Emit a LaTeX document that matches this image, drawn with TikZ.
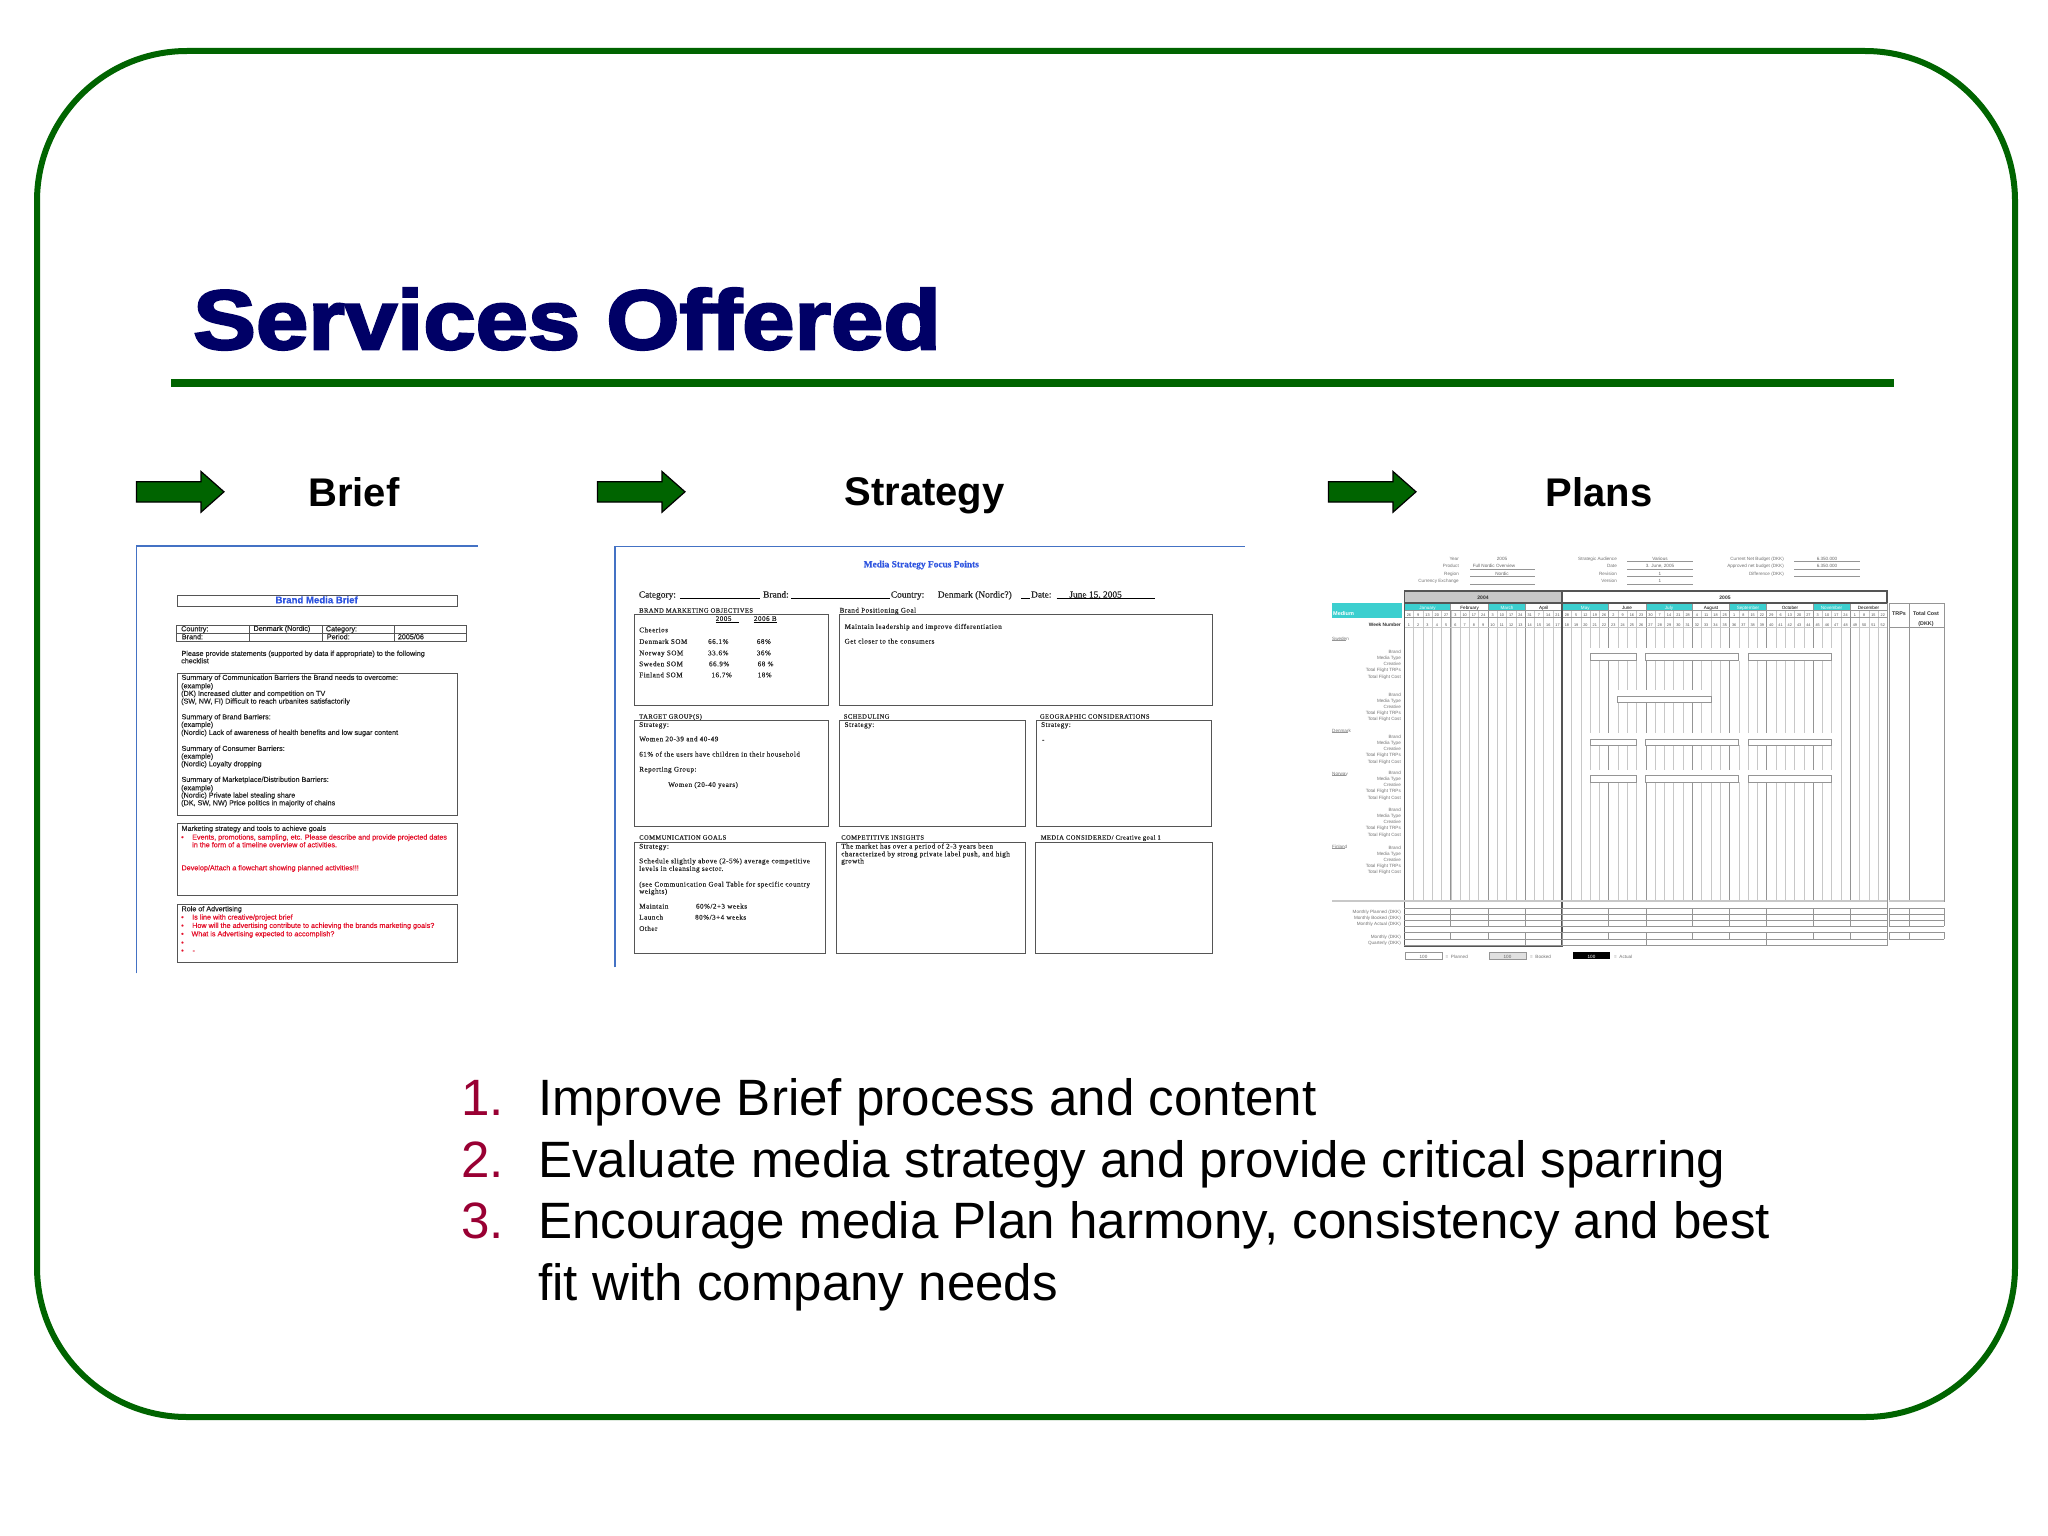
\documentclass[tikz,border=0pt]{standalone}
\usepackage{fontspec}
\setmainfont{Liberation Sans}
\newfontfamily\titlefont[FakeBold=3,FakeStretch=1.12]{Liberation Sans Bold}
\newfontfamily\briefF[FakeBold=0.4]{Liberation Sans}
\newfontfamily\stratF[FakeBold=0.45]{Liberation Serif}
\newfontfamily\stratS[FakeBold=0.45,LetterSpace=7]{Liberation Serif}
\newfontfamily\planF{Liberation Sans}
\definecolor{fgreen}{HTML}{006400}
\definecolor{navy}{HTML}{000066}
\definecolor{docblue}{HTML}{4472C4}
\definecolor{numred}{HTML}{990033}
\definecolor{teal2}{HTML}{3CCFCF}
\definecolor{redtxt}{HTML}{E4102A}
\definecolor{bluetxt}{HTML}{2F55E0}
\definecolor{darkg}{HTML}{555555}
\definecolor{midg}{HTML}{959595}
\definecolor{lightg}{HTML}{C8C8C8}
\newcounter{nn}
\tikzset{
  frameline/.style={draw=fgreen,line width=6pt,rounded corners=150pt},
  gotoarrow/.style={draw=black,fill=fgreen,line width=1.2pt,line join=miter},
  steplabel/.style={font=\fontsize{40}{40}\selectfont\bfseries,inner sep=0pt,anchor=base},
  listtext/.style={font=\fontsize{51.1}{52}\selectfont,inner sep=0pt,anchor=base west},
  listnum/.style={font=\fontsize{51.1}{52}\selectfont,text=numred,inner sep=0pt,anchor=base west},
  doc/.style={draw=docblue,line width=1.6pt},
  bx/.style={draw=darkg,line width=1pt},
  t/.style={inner sep=0pt,anchor=west,text height=.72em,text depth=.2em},
  br/.style={t,font=\briefF\fontsize{7.2}{8}\selectfont,text=black!85},
  sr/.style={t,font=\stratS\fontsize{7.1}{8}\selectfont,text=black!85},
  scap/.style={font=\stratS\fontsize{6.5}{7}\selectfont},
  pr/.style={t,anchor=east,font=\planF\fontsize{4.6}{5}\selectfont,text=black!55},
  pl/.style={t,font=\planF\fontsize{4.6}{5}\selectfont,text=black!55},
  pc/.style={t,anchor=center,font=\planF\fontsize{4.6}{5}\selectfont,text=black!60},
  wk/.style={t,anchor=center,font=\planF\fontsize{3.8}{4}\selectfont,text=black!70},
  ln/.style={draw=midg,line width=.6pt},
}
\newcommand{\Tx}[4][]{\stepcounter{nn}\node[#1] (n\arabic{nn}) at (#2,#3) {#4};}
\newcommand{\Bt}[4][]{\Tx[br,#1]{#2}{#3}{#4}}
\newcommand{\St}[4][]{\Tx[sr,#1]{#2}{#3}{#4}}
\newcommand{\Pc}[4][]{\Tx[pc,#1]{#2}{#3}{#4}}
\newcommand{\PR}[3]{\Tx[pr]{#1}{#2}{#3}}
\newcommand{\GoArrow}[1]{\begin{scope}[shift={(#1,0)}]
 \draw[gotoarrow] (136.5,481.7) -- (201,481.7) -- (201,471.5) -- (224,491.8) -- (201,512.2) -- (201,502) -- (136.5,502) -- cycle;\end{scope}}
\newcommand{\Group}[1]{\foreach \lab [count=\i from 0] in {Brand,Media Type,Creative,Total Flight TRPs,Total Flight Cost}{\pgfmathsetmacro{\yy}{#1+6.1*\i}\PR{1401}{\yy}{\lab}}}
\begin{document}
\begin{tikzpicture}[x=1pt,y=-1pt]
\useasboundingbox (0,0) rectangle (2048,1536);
\fill[white] (0,0) rectangle (2048,1536);
\draw[frameline] (37,51) rectangle (2015,1417);
\node[inner sep=0pt,anchor=base west,text=navy,font=\titlefont\fontsize{84}{84}\selectfont] (title) at (193,349) {Services Offered};
\fill[fgreen] (171,378.5) rectangle (1894,387);
\GoArrow{0}\GoArrow{461}\GoArrow{1192}
\node[steplabel] (lbrief) at (354,506) {Brief};
\node[steplabel] (lstrategy) at (924.5,505) {Strategy};
\node[steplabel] (lplans) at (1599,506) {Plans};
% ---- list
\node[listnum] (n1) at (461,1115) {1.};
\node[listtext] (l1) at (538,1115) {Improve Brief process and content};
\node[listnum] (n2) at (461,1177) {2.};
\node[listtext] (l2) at (538,1177) {Evaluate media strategy and provide critical sparring};
\node[listnum] (n3) at (461,1238) {3.};
\node[listtext] (l3) at (538,1238) {Encourage media Plan harmony, consistency and best};
\node[listtext] (l4) at (538,1300) {fit with company needs};
% ---- Brief document
\begin{scope}[shift={(120,530)},xscale=1/3,yscale=1/3]
\draw[doc] (50,1330) -- (50,48) -- (1075,48);
\draw[bx] (173,195) rectangle (1012,230);
\Tx[t,anchor=center,font=\briefF\fontsize{9.6}{10}\selectfont\bfseries,text=bluetxt]{590}{212}{Brand Media Brief}
\draw[bx] (170,285) rectangle (1040,333);
\draw[bx] (170,309) -- (1040,309);
\foreach \xx in {388,606,824} \draw[bx] (\xx,285) -- (\xx,333);
\Bt{183}{296}{Country:}\Bt{400}{295}{Denmark (Nordic)}\Bt{617}{296}{Category:}
\Bt{185}{320}{Brand:}\Bt{620}{320}{Period:}\Bt{833}{320}{2005/06}
\Bt{184}{370}{Please provide statements (supported by data if appropriate) to the following}
\Bt{183}{392}{checklist}
\draw[bx] (173,431) rectangle (1012,856);
\Bt{184}{442}{Summary of Communication Barriers the Brand needs to overcome:}
\Bt{183}{467}{(example)}
\Bt{183}{490}{(DK) Increased clutter and competition on TV}
\Bt{183}{513}{(SW, NW, FI) Difficult to reach urbanites satisfactorily}
\Bt{184}{560}{Summary of Brand Barriers:}
\Bt{183}{583}{(example)}
\Bt{183}{607}{(Nordic) Lack of awareness of health benefits and low sugar content}
\Bt{184}{655}{Summary of Consumer Barriers:}
\Bt{183}{678}{(example)}
\Bt{183}{701}{(Nordic) Loyalty dropping}
\Bt{184}{748}{Summary of Marketplace/Distribution Barriers:}
\Bt{183}{773}{(example)}
\Bt{183}{795}{(Nordic)  Private label stealing share}
\Bt{183}{818}{(DK, SW, NW) Price politics in majority of chains}
\draw[bx] (173,881) rectangle (1012,1097);
\Bt{184}{895}{Marketing strategy and tools to achieve goals}
\Bt[text=redtxt]{183}{921}{•}
\Bt[text=redtxt]{216}{921}{Events, promotions, sampling, etc.  Please describe and provide projected dates}
\Bt[text=redtxt]{216}{944}{in the form of a timeline overview of activities.}
\Bt[text=redtxt]{184}{1013}{Develop/Attach a flowchart showing planned activities!!!}
\draw[bx] (173,1124) rectangle (1012,1297);
\Bt{184}{1136}{Role of Advertising}
\foreach \yy in {1161,1186,1211,1237,1261} {\Bt[text=redtxt]{183}{\yy}{•}}
\Bt[text=redtxt]{216}{1161}{Is line with creative/project brief}
\Bt[text=redtxt]{216}{1186}{How will the advertising contribute to achieving the brands marketing goals?}
\Bt[text=redtxt]{214}{1211}{What is Advertising expected to accomplish?}
\Bt[text=redtxt]{217}{1261}{-}
\end{scope}
% ---- Strategy document
\begin{scope}[shift={(600,530)},xscale=.42,yscale=1/3]
\draw[doc] (36,1312) -- (36,50) -- (1535,50);
\Tx[t,anchor=center,font=\stratF\fontsize{9.4}{10}\selectfont\bfseries,text=bluetxt]{765}{104}{Media Strategy Focus Points}
\tikzset{sr9/.style={font=\stratF\fontsize{9.4}{10}\selectfont}}
\St[sr9]{92}{195}{Category:}
\draw[black,line width=.5pt] (190,206) -- (380,206);
\draw[black,line width=1pt] (337,206) -- (380,206);
\St[sr9]{388}{195}{Brand:}
\draw[black,line width=.5pt] (455,206) -- (690,206);
\St[sr9]{692}{195}{Country:}
\St[sr9]{804}{195}{Denmark (Nordic?)}
\draw[black,line width=.6pt] (1003,206) -- (1024,206);
\St[sr9]{1026}{195}{Date:}
\St[sr9]{1117}{195}{June 15, 2005}
\draw[black,line width=.6pt] (1087,206) -- (1322,206);
\St[scap]{93}{240}{BRAND MARKETING OBJECTIVES}\St{570}{240}{Brand Positioning Goal}
\draw[bx] (81,253) rectangle (545,525);
\draw[bx] (571,253) rectangle (1458,525);
\St{275}{265}{2005}\St{366}{265}{2006 B}
\draw[black,line width=.4pt] (275,276) -- (331,276);
\draw[black,line width=.4pt] (366,276) -- (422,276);
\St{93}{299}{Cheerios}
\St{93}{334}{Denmark SOM}\St{257}{334}{66.1\%}\St{373}{334}{68\%}
\St{93}{368}{Norway SOM}\St{257}{368}{33.6\%}\St{373}{368}{36\%}
\St{93}{401}{Sweden SOM}\St{259}{401}{66.9\%}\St{375}{401}{68 \%}
\St{93}{434}{Finland SOM}\St{265}{434}{16.7\%}\St{375}{434}{18\%}
\St{582}{289}{Maintain leadership and improve differentiation}
\St{582}{333}{Get closer to the consumers}
\St[scap]{93}{558}{TARGET GROUP(S)}\St[scap]{580}{558}{SCHEDULING}\St[scap]{1047}{558}{GEOGRAPHIC CONSIDERATIONS}
\draw[bx] (81,571) rectangle (545,888);
\draw[bx] (571,571) rectangle (1013,888);
\draw[bx] (1040,571) rectangle (1457,888);
\St{93}{583}{Strategy:}\St{582}{583}{Strategy:}\St{1050}{583}{Strategy:}
\St{93}{626}{Women 20-39 and 40-49}
\St{93}{672}{61\% of the users have children in their household}
\St{93}{717}{Reporting Group:}
\St{162}{763}{Women (20-40 years)}
\St{1052}{628}{-}
\St[scap]{93}{921}{COMMUNICATION GOALS}\St[scap]{574}{921}{COMPETITIVE INSIGHTS}\St[scap]{1049}{921}{MEDIA CONSIDERED/ Creative goal 1}
\draw[bx] (81,936) rectangle (537,1270);
\draw[bx] (562,936) rectangle (1013,1270);
\draw[bx] (1038,936) rectangle (1458,1270);
\St{93}{948}{Strategy:}
\St{93}{992}{Schedule slightly above (2-5\%) average competitive}
\St{93}{1015}{levels in cleansing sector.}
\St{93}{1062}{(see Communication Goal Table for specific country}
\St{93}{1083}{weights)}
\St{93}{1128}{Maintain}\St{228}{1128}{60\%/2+3 weeks}
\St{93}{1161}{Launch}\St{226}{1161}{80\%/3+4 weeks}
\St{93}{1195}{Other}
\St{574}{948}{The market has over a period of 2-3 years been}
\St{574}{971}{characterized by strong private label push, and high}
\St{574}{992}{growth}
\end{scope}
% ---- Plans sheet (full pixel coordinates)
% header block
\foreach \lab/\yy in {Year/558,Product/565,Region/573,Currency Exchange/580} {\PR{1459}{\yy}{\lab}}
\Pc{1502}{558}{2005}\Pc{1494}{565}{Full Nordic Overview}\Pc{1502}{573}{Nordic}
\foreach \yy in {569,576,584} \draw[midg,line width=.5pt] (1470,\yy) -- (1535,\yy);
\foreach \lab/\yy in {Strategic Audience/558,Date/565,Revision/573,Version/580} {\PR{1617}{\yy}{\lab}}
\Pc{1660}{558}{Various}\Pc{1660}{565}{3. June, 2005}\Pc{1660}{573}{1}\Pc{1660}{580}{1}
\foreach \yy in {561,569,576,584} \draw[midg,line width=.5pt] (1627,\yy) -- (1693,\yy);
\foreach \lab/\yy in {Current Net Budget (DKK)/558,Approved net budget (DKK)/565,Difference (DKK)/573} {\PR{1784}{\yy}{\lab}}
\Pc{1827}{558}{6.350.000}\Pc{1827}{565}{6.350.000}
\foreach \yy in {561,569,576} \draw[midg,line width=.5pt] (1794,\yy) -- (1860,\yy);
% teal fills
\fill[lightg] (1404.3,591) rectangle (1562,603);
\fill[teal2] (1332,603) rectangle (1402,618);
\fill[teal2] (1404.3,603) rectangle (1451,610);
\fill[teal2] (1488.3,603) rectangle (1525.7,610);
\fill[teal2] (1562,603) rectangle (1608.7,610);
\fill[teal2] (1645.7,603) rectangle (1692.7,610);
\fill[teal2] (1729.4,603) rectangle (1766.7,610);
\fill[teal2] (1813,603) rectangle (1850,610);
\Tx[pl,text=white,font=\planF\bfseries\fontsize{5.5}{6}\selectfont]{1333}{613}{Medium}
\Pc[text=black!80,font=\planF\bfseries\fontsize{5}{6}\selectfont]{1483}{597}{2004}
\Pc[text=black!80,font=\planF\bfseries\fontsize{5}{6}\selectfont]{1725}{597}{2005}
\foreach \lab/\xx/\col in {January/1427.6/white,February/1469.6/black,March/1507/white,April/1543.8/black,May/1585.3/white,June/1627/black,July/1669/white,August/1711/black,September/1748/white,October/1790/black,November/1831.5/white,December/1868.5/black} {\Pc[text=\col]{\xx}{606.6}{\lab}}
% week grid
\foreach \i in {1,...,51} {\pgfmathsetmacro{\xx}{1404.3+9.29*\i}\draw[lightg,line width=.5pt] (\xx,610) -- (\xx,901);}
\foreach \i in {5,9,13,22,26,31,35,39,44,48} {\pgfmathsetmacro{\xx}{1404.3+9.29*\i}\draw[midg,line width=.6pt] (\xx,603) -- (\xx,901);}
\foreach \d [count=\i] in {26,9,13,20,27,3,10,17,24,3,10,17,24,31,7,14,21,28,5,12,19,26,2,9,16,23,30,7,14,21,28,4,11,18,25,1,8,15,22,29,6,13,20,27,3,10,17,24,1,8,15,22} {
  \pgfmathsetmacro{\xx}{1404.3+9.29*(\i-.5)}
  \Tx[wk]{\xx}{613.6}{\d}
  \Tx[wk]{\xx}{624}{\i}
}
\foreach \yy in {610,617} \draw[midg,line width=.6pt] (1404.3,\yy) -- (1887,\yy);
\draw[lightg,line width=.6pt] (1404.3,627) -- (1887,627);
\Tx[pr,text=black!80,font=\planF\bfseries\fontsize{4.8}{5}\selectfont]{1401}{624}{Week Number}
% plan bars
\fill[white] (1590,648) rectangle (1832,661);
\fill[white] (1617.7,690) rectangle (1711,702);
\fill[white] (1590,733) rectangle (1832,745);
\fill[white] (1590,770) rectangle (1832,782);
\foreach \yt/\yb in {653/660,739/745,775/782} {
  \draw[ln,fill=white] (1590,\yt) rectangle (1636.5,\yb);
  \draw[ln,fill=white] (1645.7,\yt) rectangle (1738.7,\yb);
  \draw[ln,fill=white] (1748,\yt) rectangle (1831.7,\yb);
}
\draw[ln,fill=white] (1617.7,696) rectangle (1711,702);
% year frames
\draw[darkg,line width=1.2pt] (1404.3,591) rectangle (1887,603);
\draw[darkg,line width=1.2pt] (1404.3,591) -- (1404.3,946) -- (1562,946) -- (1562,591);
\draw[midg,line width=.8pt] (1887,603) -- (1887,946);
% totals columns
\draw[midg,line width=.8pt] (1889,603) rectangle (1944,901);
\draw[midg,line width=.8pt] (1909,603) -- (1909,901);
\draw[midg,line width=.6pt] (1889,627) -- (1944,627);
\Pc[text=black!80,font=\planF\bfseries\fontsize{5.4}{6}\selectfont]{1899}{613}{TRPs}
\Pc[text=black!80,font=\planF\bfseries\fontsize{5.4}{6}\selectfont]{1926}{613}{Total Cost}
\Pc[text=black!80,font=\planF\bfseries\fontsize{5.4}{6}\selectfont]{1926}{623}{(DKK)}
% row labels
\foreach \lab/\yy/\w in {Sweden/638/14,Denmark/730/16,Norway/772.5/14,Finland/846/13} {
  \Tx[pl]{1332}{\yy}{\lab}
  \draw[midg,line width=.3pt] (1332,\yy+2.5) -- (1332+\w,\yy+2.5);
}
\Group{651}\Group{693.5}\Group{736}\Group{772}\Group{809}\Group{846.5}
% summary rows
\draw[lightg,line width=2pt] (1332,901) -- (1887,901);
\draw[lightg,line width=2pt] (1889,901) -- (1944,901);
\foreach \yy in {908.3,914.3,920.3,926,932.3,939.3,945.7} \draw[midg,line width=.7pt] (1404.3,\yy) -- (1887,\yy);
\foreach \yy in {908.3,914.3,920.3,926,932.3,939.3} \draw[midg,line width=.7pt] (1889,\yy) -- (1944,\yy);
\foreach \i in {5,9,13,17,22,26,31,35,39,44,48,52} {
  \pgfmathsetmacro{\xx}{1404.3+9.29*\i}
  \draw[midg,line width=.6pt] (\xx,908.3) -- (\xx,926);
  \draw[midg,line width=.6pt] (\xx,932.3) -- (\xx,939.3);
}
\foreach \i in {13,17,26,39,52} {\pgfmathsetmacro{\xx}{1404.3+9.29*\i}\draw[midg,line width=.6pt] (\xx,939.3) -- (\xx,945.7);}
\foreach \xx in {1889,1909,1944} {\draw[midg,line width=.6pt] (\xx,908.3) -- (\xx,926);\draw[midg,line width=.6pt] (\xx,932.3) -- (\xx,939.3);}
\foreach \lab/\yy in {Monthly Planned (DKK)/911,Monthly Booked (DKK)/917,Monthly Actual (DKK)/923,Monthly (DKK)/936,Quarterly (DKK)/942} {\PR{1401}{\yy}{\lab}}
% legend
\draw[midg,line width=.6pt] (1405,952) rectangle (1442,959);
\Pc{1423.5}{955.5}{100}\Tx[pl]{1445.5}{955.5}{=\ \ Planned}
\draw[midg,line width=.6pt,fill=black!12] (1489,952) rectangle (1526,959);
\Pc{1507.5}{955.5}{100}\Tx[pl]{1530}{955.5}{=\ \ Booked}
\fill[black] (1573,952) rectangle (1610,959);
\Pc[text=white]{1591.5}{955.5}{100}\Tx[pl]{1614}{955.5}{=\ \ Actual}
\end{tikzpicture}
\end{document}
